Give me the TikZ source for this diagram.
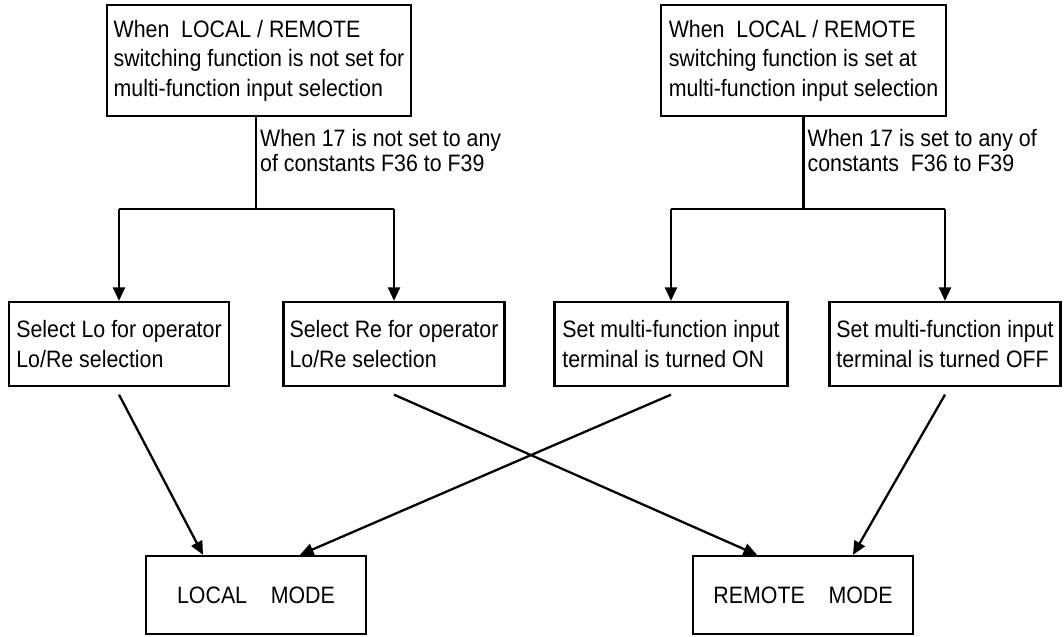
\documentclass[tikz,border=0pt]{standalone}
\usepackage{fontspec}
\setmainfont{Liberation Sans}[FakeStretch=0.9]
\usetikzlibrary{arrows.meta,positioning}

\begin{document}
\begin{tikzpicture}[
    box/.style={draw, line width=1.3pt, align=left, inner xsep=0.12cm,
        font=\fontsize{13.5}{16.8}\selectfont},
    modebox/.style={draw, line width=1.3pt, minimum width=4.4cm,
        minimum height=1.56cm, font=\fontsize{13.5}{16.8}\selectfont},
    ln/.style={line width=1.3pt},
    arr/.style={-{Triangle[length=2.7mm, width=2.4mm]}, line width=1.3pt},
    lab/.style={font=\fontsize{13.5}{14.4}\selectfont, anchor=west,
        align=left, inner xsep=0.06cm}
]
    \useasboundingbox (0,0) rectangle (21.28,12.72);

    \node[box, minimum width=6.08cm, minimum height=2.22cm] (T1) at (5.18,11.51)
        {When\ \ LOCAL / REMOTE\\switching function is not set for\\multi-function input selection};
    \node[box, minimum width=5.70cm, minimum height=2.22cm] (T2) at (16.07,11.51)
        {When\ \ LOCAL / REMOTE\\switching function is set at\\multi-function input selection};

    \node[box, minimum width=4.40cm, minimum height=1.68cm] (S1) at (2.38,5.84)
        {Select Lo for operator\\Lo/Re selection};
    \node[box, minimum width=4.42cm, minimum height=1.68cm] (S2) at (7.88,5.84)
        {Select Re for operator\\Lo/Re selection};
    \node[box, minimum width=4.66cm, minimum height=1.68cm] (S3) at (13.42,5.84)
        {Set multi-function input\\terminal is turned ON};
    \node[box, minimum width=4.62cm, minimum height=1.68cm] (S4) at (18.90,5.84)
        {Set multi-function input\\terminal is turned OFF};

    \node[modebox] (LM) at (5.12,0.82) {LOCAL\quad MODE};
    \node[modebox] (RM) at (16.06,0.82) {REMOTE\quad MODE};

    \path (T1.south) ++(-0.06,-1.84) coordinate (J1);
    \path (T2.south) ++(0,-1.84) coordinate (J2);

    \draw[ln] (T1.south -| J1) -- node[lab, pos=0.36] {When 17 is not set to any\\of constants F36 to F39} (J1);
    \draw[ln] (S1.north |- J1) -- (S2.north |- J1);
    \draw[arr] (S1.north |- J1) -- (S1.north);
    \draw[arr] (S2.north |- J1) -- (S2.north);

    \draw[ln] (T2.south) -- node[lab, pos=0.36] {When 17 is set to any of\\constants\ \ F36 to F39} (J2);
    \draw[ln] (S3.north |- J2) -- (S4.north |- J2);
    \draw[arr] (S3.north |- J2) -- (S3.north);
    \draw[arr] (S4.north |- J2) -- (S4.north);

    \draw[arr] ([yshift=-1.5mm]S1.south) -- ([xshift=-1.06cm]LM.north);
    \draw[arr] ([yshift=-1.5mm]S2.south) -- ([xshift=-0.92cm]RM.north);
    \draw[arr] ([yshift=-1.5mm]S3.south) -- ([xshift=0.88cm]LM.north);
    \draw[arr] ([yshift=-1.5mm]S4.south) -- ([xshift=1.0cm]RM.north);
\end{tikzpicture}
\end{document}
